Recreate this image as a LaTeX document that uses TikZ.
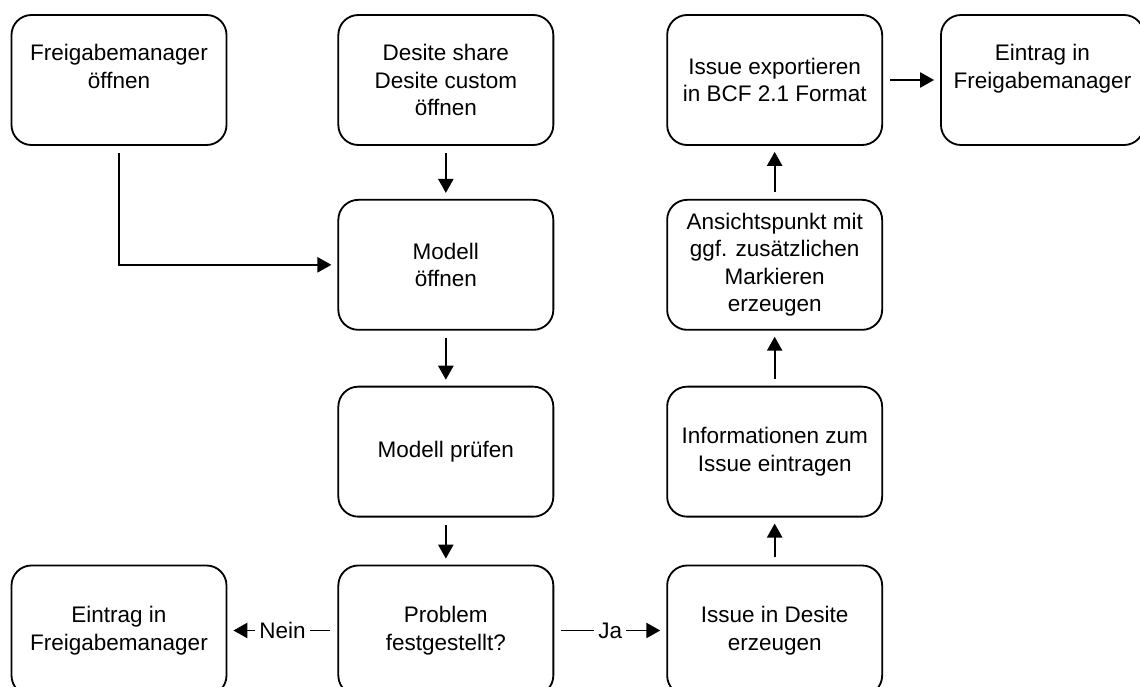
\documentclass[tikz,border=0pt]{standalone}
\usepackage{fontspec}
\setmainfont{Liberation Sans}
\usetikzlibrary{positioning}
\usetikzlibrary{arrows.meta}

\begin{document}
\begin{tikzpicture}[
  box/.style={draw,rounded corners=0.5cm,line width=1.3pt,minimum width=5.375cm,minimum height=3.25cm,align=center,font=\fontsize{16}{19.5}\selectfont},
  flow/.style={-{Triangle[length=0.35cm,width=0.38cm]},line width=1.3pt,shorten <=0.18cm,shorten >=0.15cm},
  lbl/.style={fill=white,inner sep=3pt,font=\fontsize{16}{19.5}\selectfont}]
  \useasboundingbox (0,0) rectangle (28.5,-17.15);
  \clip (0,0) rectangle (28.5,-17.15);

  \node[box] (freig) at (2.975,-2.0) {Freigabemanager\\öffnen\\\mbox{}};
  \node[box,right=2.75cm of freig] (desite) {Desite share\\Desite custom\\öffnen};
  \node[box,right=2.8cm of desite] (export) {Issue exportieren\\in BCF 2.1 Format};
  \node[box,minimum width=5.075cm,right=1.425cm of export] (eintragr) {Eintrag in\\Freigabemanager\\\mbox{}};

  \node[box,below=1.325cm of desite] (modoeff) {Modell\\öffnen};
  \node[box,below=1.375cm of modoeff] (modpruef) {Modell prüfen};
  \node[box,below=1.175cm of modpruef] (problem) {Problem\\festgestellt?};
  \node[box,left=2.75cm of problem] (eintragl) {Eintrag in\\Freigabemanager};

  \node[box,below=1.325cm of export] (ansicht) {Ansichtspunkt mit\\ggf. zusätzlichen\\Markieren\\erzeugen};
  \node[box,below=1.375cm of ansicht] (info) {Informationen zum\\Issue eintragen};
  \node[box,below=1.175cm of info] (issue) {Issue in Desite\\erzeugen};

  \draw[flow] (freig) |- (modoeff);
  \draw[flow] (desite) -- (modoeff);
  \draw[flow] (modoeff) -- (modpruef);
  \draw[flow] (modpruef) -- (problem);
  \draw[flow] (problem) -- node[lbl] {Nein} (eintragl);
  \draw[flow] (problem) -- node[lbl] {Ja} (issue);
  \draw[flow] (issue) -- (info);
  \draw[flow] (info) -- (ansicht);
  \draw[flow] (ansicht) -- (export);
  \draw[flow] (export) -- (eintragr);
\end{tikzpicture}
\end{document}
